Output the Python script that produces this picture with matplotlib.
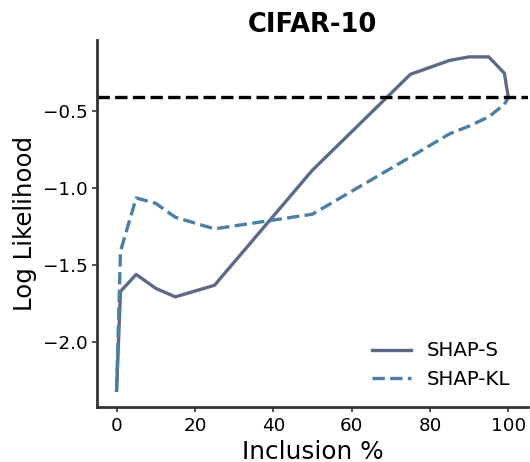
import numpy as np
import matplotlib
matplotlib.use("Agg")
import matplotlib.pyplot as plt

# data
inclusion = [0, 1, 5, 10, 15, 25, 50, 75, 85, 90, 95, 99, 100]
shap_s = [-2.31, -1.67, -1.56, -1.65, -1.705, -1.63, -0.885, -0.265, -0.175, -0.152, -0.152, -0.258, -0.414]
shap_kl = [-2.31, -1.41, -1.065, -1.10, -1.19, -1.265, -1.17, -0.80, -0.65, -0.60, -0.54, -0.46, -0.414]
full_ll = -0.414

fig = plt.figure(figsize=(5.3, 4.62), dpi=100)
ax = fig.add_axes([0.183, 0.119, 0.813, 0.794])

ax.plot(inclusion, shap_s, '-', color='#5b6a86', lw=2.4, label='SHAP-S')
ax.plot(inclusion, shap_kl, '--', color='#4a7fa7', lw=2.4, label='SHAP-KL')
ax.axhline(full_ll, color='black', ls='--', lw=2.4)

ax.set_title('CIFAR-10', fontsize=18.5, fontweight='bold')
ax.set_xlabel('Inclusion %', fontsize=17.8)
ax.set_ylabel('Log Likelihood', fontsize=17.6)
ax.set_xticks([0, 20, 40, 60, 80, 100])
ax.set_yticks([-0.5, -1.0, -1.5, -2.0])
ax.tick_params(labelsize=13.2, width=1.2, color='#333333')

for s in ['top', 'right']:
    ax.spines[s].set_visible(False)
for s in ['left', 'bottom']:
    ax.spines[s].set_linewidth(2)
    ax.spines[s].set_color('#333333')

ax.legend(loc='lower right', frameon=False, fontsize=14.2)

fig.savefig('out.png', dpi=100)
